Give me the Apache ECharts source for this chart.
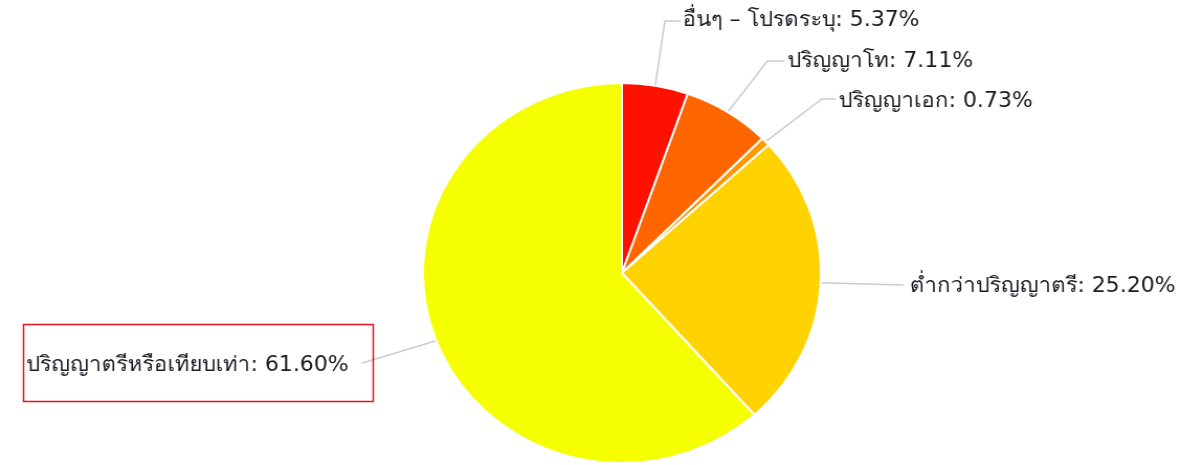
<!DOCTYPE html>
<html>
<head>
<meta charset="utf-8">
<script src="https://cdn.jsdelivr.net/npm/echarts@6/dist/echarts.min.js"></script>
<style>
  html, body { margin: 0; padding: 0; background: #fff; overflow: hidden; }
  /* the source picture is stretched a little wider than tall */
  #chart { width: 1128px; height: 465px; transform: scaleX(1.047); transform-origin: 0 0; }
</style>
</head>
<body>
<div id="chart"></div>
<script>
const categories = ['อื่นๆ – โปรดระบุ', 'ปริญญาโท', 'ปริญญาเอก', 'ต่ำกว่าปริญญาตรี', 'ปริญญาตรีหรือเทียบเท่า']
const values = [5.37, 7.11, 0.73, 25.20, 61.60]
const colors = ['#FF1100', '#FF6600', '#FF9900', '#FFD200', '#F6FF00']

// where each label sits, plus the elbow / end of its leader line (chart px, before stretch)
const labelSpots = [
  { x: 652, y: 21, align: 'left', elbow: [635, 21], end: [650, 21] },
  { x: 752, y: 62, align: 'left', elbow: [733, 61], end: [749, 61] },
  { x: 801, y: 102, align: 'left', elbow: [785, 99], end: [798, 99] },
  { x: 869, y: 287, align: 'left', elbow: null, end: [863, 285] },
  { x: 333, y: 366, align: 'right', elbow: null, end: [346, 363] },
]

const chart = echarts.init(document.getElementById('chart'))

chart.setOption({
  animation: false,
  backgroundColor: '#fff',
  color: colors,
  graphic: [{
    type: 'rect',
    shape: { x: 22.5, y: 324.5, width: 334, height: 77 },
    style: { fill: 'none', stroke: '#E8141B', lineWidth: 1.5 },
    z: 100,
  }],
  series: [{
    type: 'pie',
    center: [594, 273],
    radius: 190,
    startAngle: 90,
    clockwise: true,
    data: categories.map((name, i) => ({ name, value: values[i] })),
    itemStyle: { borderColor: '#fff', borderWidth: 2 },
    label: {
      show: true,
      formatter: p => p.name + ': ' + p.value.toFixed(2) + '%',
      color: '#1a1a22',
      fontSize: 21,
      fontFamily: 'DejaVu Sans, Tahoma, Noto Sans, sans-serif',
    },
    labelLine: {
      show: true,
      lineStyle: { color: '#cccccc', width: 1.5 },
    },
    labelLayout: (params) => {
      const s = labelSpots[params.dataIndex]
      const start = params.labelLinePoints ? params.labelLinePoints[0] : s.end
      const pts = s.elbow ? [start, s.elbow, s.end] : [start, s.end]
      return {
        x: s.x,
        y: s.y,
        align: s.align,
        verticalAlign: 'middle',
        labelLinePoints: pts,
      }
    },
  }],
})
</script>
</body>
</html>
